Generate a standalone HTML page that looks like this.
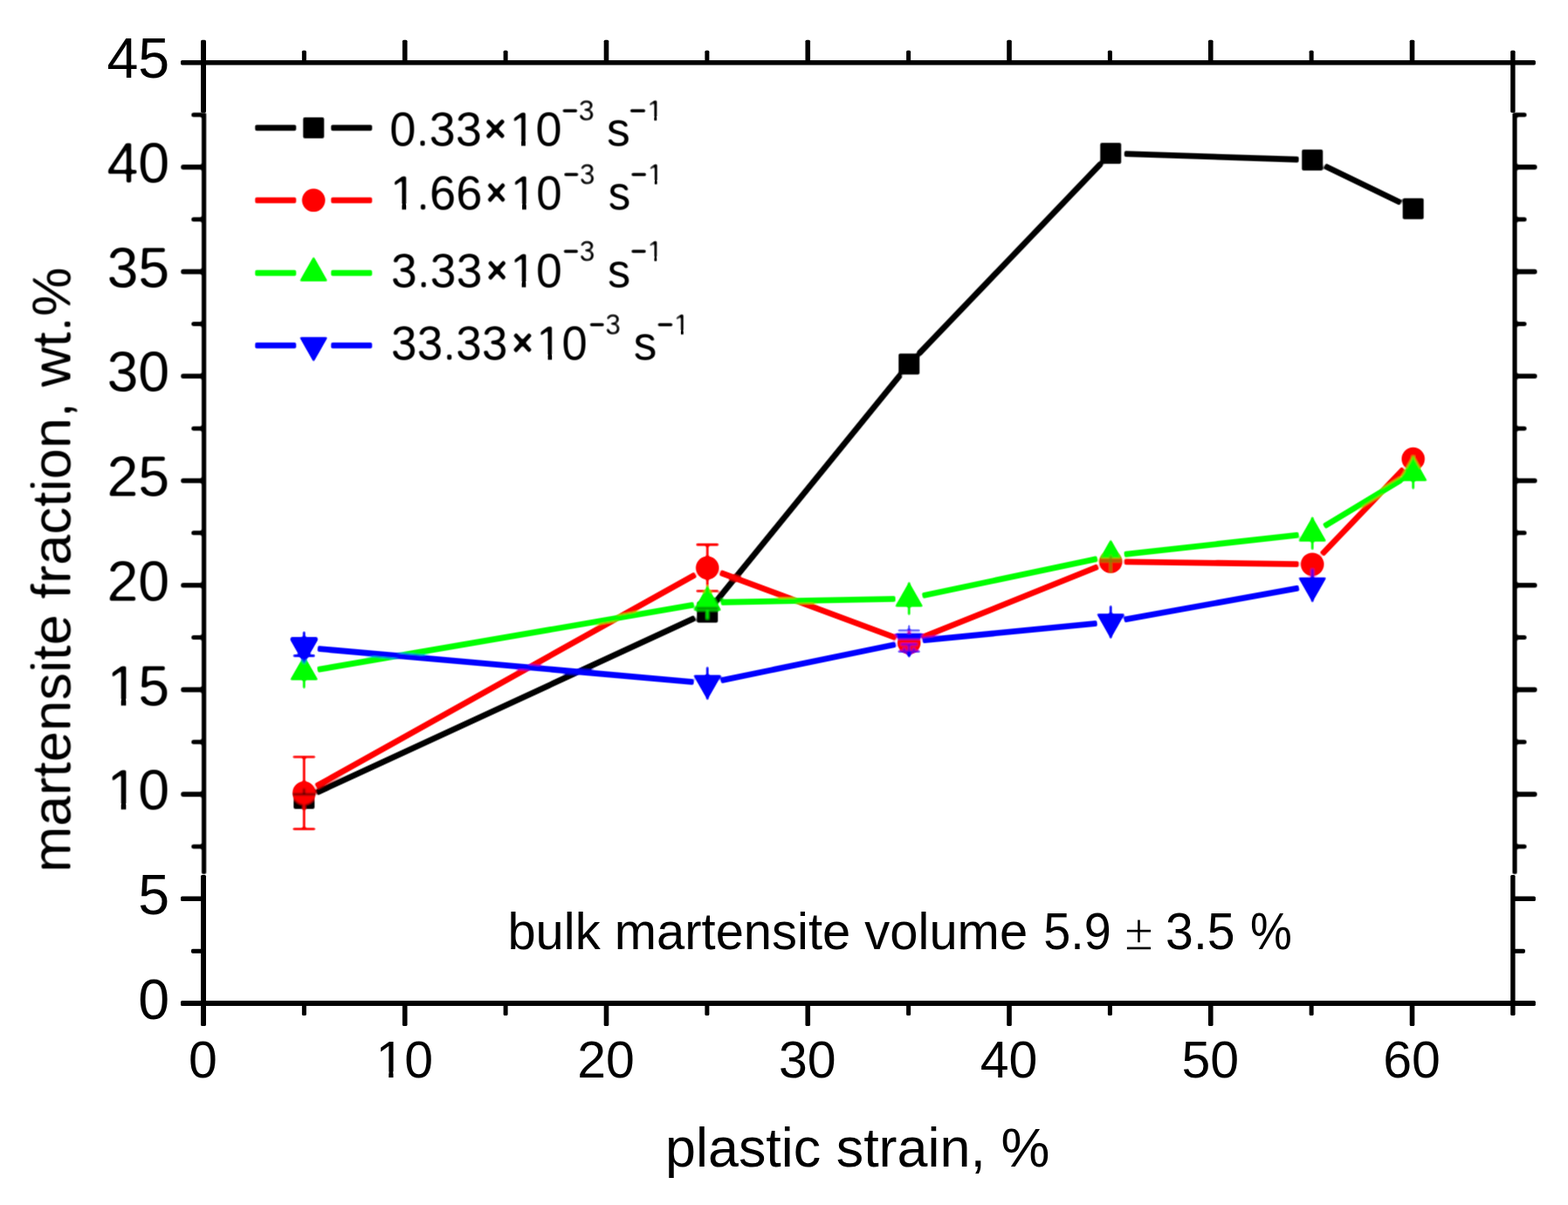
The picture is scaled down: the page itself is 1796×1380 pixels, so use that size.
<!DOCTYPE html>
<html lang="en"><head><meta charset="utf-8"><title>Martensite fraction vs plastic strain</title>
<style>html,body{margin:0;padding:0;background:#fff;}svg{display:block;}text{font-family:"Liberation Sans",sans-serif;fill:#000;}</style></head><body>
<svg width="1796" height="1380" viewBox="0 0 1796 1380" role="img" aria-label="Martensite fraction versus plastic strain">
<defs><filter id="soft" x="0" y="0" width="1796" height="1380" filterUnits="userSpaceOnUse"><feGaussianBlur stdDeviation="0.9"/><feComponentTransfer><feFuncA type="linear" slope="1.7" intercept="-0.35"/></feComponentTransfer></filter><clipPath id="c35r"><rect x="0" y="726.00" width="1796" height="74.00"/></clipPath><clipPath id="c45"><rect x="0" y="0.00" width="1796" height="639.40"/></clipPath><clipPath id="c35a"><rect x="0" y="0.00" width="1796" height="732.30"/></clipPath><clipPath id="c35b"><rect x="0" y="747.00" width="1796" height="53.00"/></clipPath></defs>
<rect width="1796" height="1380" fill="#fff"/>
<g filter="url(#soft)"><g fill="#000" stroke="none">
<rect x="231.00" y="129.00" width="5.20" height="872.00" rx="0"/>
<rect x="1732.40" y="129.00" width="5.20" height="872.00" rx="0"/>
<rect x="219.20" y="966.95" width="14.40" height="5.00" rx="1.6"/>
<rect x="1735.00" y="966.95" width="13.60" height="5.00" rx="1.6"/>
<rect x="207.20" y="906.80" width="26.40" height="5.60" rx="1.6"/>
<rect x="1735.00" y="906.80" width="25.60" height="5.60" rx="1.6"/>
<rect x="219.20" y="847.25" width="14.40" height="5.00" rx="1.6"/>
<rect x="1735.00" y="847.25" width="13.60" height="5.00" rx="1.6"/>
<rect x="207.20" y="787.10" width="26.40" height="5.60" rx="1.6"/>
<rect x="1735.00" y="787.10" width="25.60" height="5.60" rx="1.6"/>
<rect x="219.20" y="727.55" width="14.40" height="5.00" rx="1.6"/>
<rect x="1735.00" y="727.55" width="13.60" height="5.00" rx="1.6"/>
<rect x="207.20" y="667.40" width="26.40" height="5.60" rx="1.6"/>
<rect x="1735.00" y="667.40" width="25.60" height="5.60" rx="1.6"/>
<rect x="219.20" y="607.85" width="14.40" height="5.00" rx="1.6"/>
<rect x="1735.00" y="607.85" width="13.60" height="5.00" rx="1.6"/>
<rect x="207.20" y="547.70" width="26.40" height="5.60" rx="1.6"/>
<rect x="1735.00" y="547.70" width="25.60" height="5.60" rx="1.6"/>
<rect x="219.20" y="488.15" width="14.40" height="5.00" rx="1.6"/>
<rect x="1735.00" y="488.15" width="13.60" height="5.00" rx="1.6"/>
<rect x="207.20" y="428.00" width="26.40" height="5.60" rx="1.6"/>
<rect x="1735.00" y="428.00" width="25.60" height="5.60" rx="1.6"/>
<rect x="219.20" y="368.45" width="14.40" height="5.00" rx="1.6"/>
<rect x="1735.00" y="368.45" width="13.60" height="5.00" rx="1.6"/>
<rect x="207.20" y="308.30" width="26.40" height="5.60" rx="1.6"/>
<rect x="1735.00" y="308.30" width="25.60" height="5.60" rx="1.6"/>
<rect x="219.20" y="248.75" width="14.40" height="5.00" rx="1.6"/>
<rect x="1735.00" y="248.75" width="13.60" height="5.00" rx="1.6"/>
<rect x="207.20" y="188.60" width="26.40" height="5.60" rx="1.6"/>
<rect x="1735.00" y="188.60" width="25.60" height="5.60" rx="1.6"/>
<rect x="219.20" y="129.05" width="14.40" height="5.00" rx="1.6"/>
<rect x="1735.00" y="129.05" width="13.60" height="5.00" rx="1.6"/>
<text x="194.2" y="927.20" font-size="64.5" text-anchor="end">10</text>
<text x="194.2" y="807.50" font-size="64.5" text-anchor="end">15</text>
<text x="194.2" y="687.80" font-size="64.5" text-anchor="end">20</text>
<text x="194.2" y="568.10" font-size="64.5" text-anchor="end">25</text>
<text x="194.2" y="448.40" font-size="64.5" text-anchor="end">30</text>
<text x="194.2" y="328.70" font-size="64.5" text-anchor="end">35</text>
<text x="194.2" y="209.00" font-size="64.5" text-anchor="end">40</text>
<text transform="translate(80.6 652.6) rotate(-90)" font-size="63.3" text-anchor="middle">martensite fraction, wt.%</text>
<path d="M362.45 907.85L796.09 707.62M820.09 688.98L1031.39 429.02M1052.02 405.65L1261.42 186.87M1287.80 176.12L1487.60 182.74M1517.24 190.05L1604.63 232.26" stroke="#000" stroke-width="6.8" fill="none"/>
<rect x="336.29" y="902.39" width="24.0" height="24.0" fill="#000" stroke="none"/>
<rect x="798.25" y="689.08" width="24.0" height="24.0" fill="#000" stroke="none"/>
<rect x="1029.23" y="404.91" width="24.0" height="24.0" fill="#000" stroke="none"/>
<rect x="1260.21" y="163.60" width="24.0" height="24.0" fill="#000" stroke="none"/>
<rect x="1491.19" y="171.26" width="24.0" height="24.0" fill="#000" stroke="none"/>
<rect x="1606.68" y="227.04" width="24.0" height="24.0" fill="#000" stroke="none"/>
<path d="M361.91 900.56L796.63 657.93M824.88 655.76L1026.60 730.61M1055.70 730.21L1257.74 648.97M1287.81 643.36L1487.59 646.05M1513.98 634.99L1607.89 536.87" stroke="#f00" stroke-width="6.8" fill="none"/>
<circle cx="348.29" cy="908.16" r="13.3" fill="#f00" stroke="none"/>
<circle cx="810.25" cy="650.33" r="13.3" fill="#f00" stroke="none"/>
<g clip-path="url(#c35r)"><circle cx="1041.23" cy="736.03" r="13.3" fill="#f00" stroke="none"/></g>
<circle cx="1272.21" cy="643.15" r="13.3" fill="#f00" stroke="none"/>
<circle cx="1503.19" cy="646.26" r="13.3" fill="#f00" stroke="none"/>
<circle cx="1618.68" cy="525.60" r="13.3" fill="#f00" stroke="none"/>
<path d="M348.29 866.86V949.46M335.29 866.86h26M335.29 949.46h26" stroke="#f00" stroke-width="2.8" fill="none"/>
<path d="M335.49 909.6h25.6M348.29 903V909.6" stroke="#000" stroke-width="1.8" fill="none"/>
<path d="M810.25 623.73V676.93M797.25 623.73h26M797.25 676.93h26" stroke="#f00" stroke-width="2.8" fill="none"/>
<path d="M1041.23 723.2V734" stroke="#f00" stroke-width="2.8" fill="none"/>
<path d="M363.66 766.91L794.88 692.72M825.85 689.76L1025.63 685.83M1056.49 682.29L1256.95 639.91M1287.71 634.95L1487.69 612.56M1516.56 602.79L1605.31 549.44" stroke="#0f0" stroke-width="6.8" fill="none"/>
<path d="M348.29 750.48L364.59 779.08H331.99Z" fill="#0f0" stroke="none"/>
<path d="M810.25 671.00L826.55 699.60H793.95Z" fill="#0f0" stroke="none"/>
<path d="M1041.23 666.45L1057.53 695.05H1024.93Z" fill="#0f0" stroke="none"/>
<g clip-path="url(#c45)"><path d="M1272.21 617.62L1288.51 646.22H1255.91Z" fill="#0f0" stroke="none"/></g>
<path d="M1503.19 591.76L1519.49 620.36H1486.89Z" fill="#0f0" stroke="none"/>
<path d="M1618.68 522.34L1634.98 550.94H1602.38Z" fill="#0f0" stroke="none"/>
<path d="M348.29 750.55V788.55" stroke="#0f0" stroke-width="2.8" fill="none"/>
<path d="M810.25 671.07V709.07" stroke="#0f0" stroke-width="2.8" fill="none"/>
<path d="M797.75 696.6h25" stroke="#003300" stroke-width="1.8" fill="none"/>
<path d="M1041.23 666.52V704.52" stroke="#0f0" stroke-width="2.8" fill="none"/>
<path d="M1260.21 642.6h24M1272.21 636V655.5" stroke="#6b8e00" stroke-width="2.0" fill="none"/>
<path d="M1503.19 591.83V629.83" stroke="#0f0" stroke-width="2.8" fill="none"/>
<path d="M1618.68 522.40V560.40" stroke="#0f0" stroke-width="2.8" fill="none"/>
<path d="M363.83 742.92L794.71 781.10M825.53 779.33L1025.95 737.99M1056.76 733.33L1256.68 713.85M1287.56 709.57L1487.84 673.45" stroke="#00f" stroke-width="6.8" fill="none"/>
<path d="M348.29 760.61L364.59 732.01H331.99Z" fill="#00f" stroke="none"/>
<path d="M810.25 801.55L826.55 772.95H793.95Z" fill="#00f" stroke="none"/>
<g clip-path="url(#c35a)"><path d="M1041.23 753.90L1057.53 725.30H1024.93Z" fill="#00f" stroke="none"/></g><g clip-path="url(#c35b)"><path d="M1041.23 753.90L1057.53 725.30H1024.93Z" fill="#00f" stroke="none"/></g>
<path d="M1272.21 731.40L1288.51 702.80H1255.91Z" fill="#00f" stroke="none"/>
<path d="M1503.19 689.75L1519.49 661.15H1486.89Z" fill="#00f" stroke="none"/>
<path d="M348.29 723V751M335.69 751h25.2M332.79 730.8h31" stroke="#00f" stroke-width="2.8" fill="none"/>
<path d="M810.25 763.48V801.48" stroke="#00f" stroke-width="2.8" fill="none"/>
<path d="M1041.23 715.6V722M1028.23 721.9h26M1031.93 737.9h18.6M1028.23 746.2h26M1035.73 742V746M1046.73 742V746M1041.23 738V746" stroke="#00f" stroke-width="1.9" fill="none"/>
<path d="M1272.21 693.33V731.33" stroke="#00f" stroke-width="2.8" fill="none"/>
<path d="M1503.19 651.68V689.68" stroke="#00f" stroke-width="2.8" fill="none"/>
<path d="M292.20 146.4H339.20M379.20 146.4H426.20" stroke="#000" stroke-width="6.8" fill="none"/>
<rect x="347.20" y="134.40" width="24.0" height="24.0" fill="#000" stroke="none"/>
<text transform="translate(446.30 167.10) scale(0.9698 1)" font-size="56.0">0.33</text>
<text transform="translate(554.52 163.20) scale(0.9408 1)" font-size="47" font-weight="bold">×</text>
<text transform="translate(583.49 167.10) scale(0.9674 1)" font-size="56.0">10</text>
<text transform="translate(643.25 138.10) scale(0.9928 1)" font-size="33.2"><tspan font-weight="bold">−</tspan>3</text>
<text transform="translate(694.75 167.10) scale(0.9695 1)" font-size="56.0">s</text>
<text transform="translate(720.59 138.10) scale(1.0338 1)" font-size="33.2"><tspan font-weight="bold">−</tspan>1</text>
<path d="M292.20 229.3H339.20M379.20 229.3H426.20" stroke="#f00" stroke-width="6.8" fill="none"/>
<circle cx="359.20" cy="229.30" r="13.3" fill="#f00" stroke="none"/>
<text transform="translate(446.78 239.70) scale(0.9691 1)" font-size="56.0">1.66</text>
<text transform="translate(556.60 235.80) scale(0.8830 1)" font-size="47" font-weight="bold">×</text>
<text transform="translate(584.81 239.70) scale(0.9458 1)" font-size="56.0">10</text>
<text transform="translate(645.00 211.00) scale(0.9614 1)" font-size="33.2"><tspan font-weight="bold">−</tspan>3</text>
<text transform="translate(696.39 239.70) scale(0.9222 1)" font-size="56.0">s</text>
<text transform="translate(722.04 211.00) scale(0.9995 1)" font-size="33.2"><tspan font-weight="bold">−</tspan>1</text>
<path d="M292.20 312.6H339.20M379.20 312.6H426.20" stroke="#0f0" stroke-width="6.8" fill="none"/>
<path d="M359.20 293.53L375.50 322.13H342.90Z" fill="#0f0" stroke="none"/>
<text transform="translate(447.72 328.80) scale(0.9612 1)" font-size="56.0">3.33</text>
<text transform="translate(556.99 324.90) scale(0.8913 1)" font-size="47" font-weight="bold">×</text>
<text transform="translate(584.14 328.80) scale(0.9584 1)" font-size="56.0">10</text>
<text transform="translate(644.59 298.50) scale(0.9728 1)" font-size="33.2"><tspan font-weight="bold">−</tspan>3</text>
<text transform="translate(695.77 328.80) scale(0.9458 1)" font-size="56.0">s</text>
<text transform="translate(722.07 298.50) scale(0.9858 1)" font-size="33.2"><tspan font-weight="bold">−</tspan>1</text>
<path d="M292.20 395.6H339.20M379.20 395.6H426.20" stroke="#00f" stroke-width="6.8" fill="none"/>
<path d="M359.20 414.67L375.50 386.07H342.90Z" fill="#00f" stroke="none"/>
<text transform="translate(447.73 412.30) scale(0.9543 1)" font-size="56.0">33.33</text>
<text transform="translate(585.96 408.40) scale(0.9119 1)" font-size="47" font-weight="bold">×</text>
<text transform="translate(614.34 412.30) scale(0.9386 1)" font-size="56.0">10</text>
<text transform="translate(674.61 382.70) scale(0.9585 1)" font-size="33.2"><tspan font-weight="bold">−</tspan>3</text>
<text transform="translate(725.46 412.30) scale(0.9616 1)" font-size="56.0">s</text>
<text transform="translate(752.14 382.70) scale(0.9995 1)" font-size="33.2"><tspan font-weight="bold">−</tspan>1</text>
</g></g>
<g fill="#000" stroke="none">
<rect x="207.00" y="69.00" width="1551.88" height="5.40" rx="1.6"/>
<rect x="207.00" y="1146.00" width="1551.88" height="6.00" rx="1.6"/>
<rect x="345.88" y="57.70" width="5.00" height="14.00" rx="1.6"/>
<rect x="345.88" y="1149.00" width="5.00" height="14.00" rx="1.6"/>
<rect x="460.95" y="45.70" width="5.60" height="26.00" rx="1.6"/>
<rect x="460.95" y="1149.00" width="5.60" height="26.00" rx="1.6"/>
<rect x="576.62" y="57.70" width="5.00" height="14.00" rx="1.6"/>
<rect x="576.62" y="1149.00" width="5.00" height="14.00" rx="1.6"/>
<rect x="691.70" y="45.70" width="5.60" height="26.00" rx="1.6"/>
<rect x="691.70" y="1149.00" width="5.60" height="26.00" rx="1.6"/>
<rect x="807.38" y="57.70" width="5.00" height="14.00" rx="1.6"/>
<rect x="807.38" y="1149.00" width="5.00" height="14.00" rx="1.6"/>
<rect x="922.45" y="45.70" width="5.60" height="26.00" rx="1.6"/>
<rect x="922.45" y="1149.00" width="5.60" height="26.00" rx="1.6"/>
<rect x="1038.12" y="57.70" width="5.00" height="14.00" rx="1.6"/>
<rect x="1038.12" y="1149.00" width="5.00" height="14.00" rx="1.6"/>
<rect x="1153.20" y="45.70" width="5.60" height="26.00" rx="1.6"/>
<rect x="1153.20" y="1149.00" width="5.60" height="26.00" rx="1.6"/>
<rect x="1268.88" y="57.70" width="5.00" height="14.00" rx="1.6"/>
<rect x="1268.88" y="1149.00" width="5.00" height="14.00" rx="1.6"/>
<rect x="1383.95" y="45.70" width="5.60" height="26.00" rx="1.6"/>
<rect x="1383.95" y="1149.00" width="5.60" height="26.00" rx="1.6"/>
<rect x="1499.62" y="57.70" width="5.00" height="14.00" rx="1.6"/>
<rect x="1499.62" y="1149.00" width="5.00" height="14.00" rx="1.6"/>
<rect x="1614.70" y="45.70" width="5.60" height="26.00" rx="1.6"/>
<rect x="1614.70" y="1149.00" width="5.60" height="26.00" rx="1.6"/>
<rect x="230.00" y="45.70" width="6.00" height="83.30" rx="1.6"/>
<rect x="1730.17" y="57.70" width="5.40" height="71.30" rx="1.6"/>
<rect x="230.00" y="1002.00" width="6.00" height="173.00" rx="1.6"/>
<rect x="1730.17" y="1002.00" width="5.40" height="161.00" rx="1.6"/>
<rect x="219.00" y="1086.65" width="14.00" height="5.00" rx="1.6"/>
<rect x="1732.88" y="1086.65" width="14.00" height="5.00" rx="1.6"/>
<rect x="207.00" y="1026.50" width="26.00" height="5.60" rx="1.6"/>
<rect x="1732.88" y="1026.50" width="26.00" height="5.60" rx="1.6"/>
<text x="194.2" y="1166.60" font-size="64.5" text-anchor="end">0</text>
<text x="194.2" y="1046.90" font-size="64.5" text-anchor="end">5</text>
<text x="194.2" y="89.30" font-size="64.5" text-anchor="end">45</text>
<text x="232.50" y="1234" font-size="59" text-anchor="middle">0</text>
<text x="463.25" y="1234" font-size="59" text-anchor="middle">10</text>
<text x="694.00" y="1234" font-size="59" text-anchor="middle">20</text>
<text x="924.75" y="1234" font-size="59" text-anchor="middle">30</text>
<text x="1155.50" y="1234" font-size="59" text-anchor="middle">40</text>
<text x="1386.25" y="1234" font-size="59" text-anchor="middle">50</text>
<text x="1617.00" y="1234" font-size="59" text-anchor="middle">60</text>
<text transform="translate(761.97 1335.60) scale(0.9985 1)" font-size="63">plastic strain, %</text>
<text transform="translate(581.38 1087.40) scale(0.9888 1)" font-size="58.6">bulk martensite volume</text>
<text transform="translate(1195.36 1087.40) scale(0.9514 1)" font-size="58.6">5.9</text>
<text transform="translate(1288.25 1088.00) scale(0.9874 1)" font-size="59.8" font-family="Liberation Serif, serif" stroke="#fff" stroke-width="1.5">±</text>
<text transform="translate(1335.12 1087.40) scale(0.9747 1)" font-size="58.6">3.5</text>
<text transform="translate(1432.02 1087.40) scale(0.9170 1)" font-size="58.6">%</text>
</g>
<g stroke="none"><rect x="125.37" y="919.88" width="13.31" height="9.82" fill="#fff"/><rect x="144.38" y="919.88" width="12.80" height="9.82" fill="#fff"/><rect x="125.37" y="800.18" width="13.31" height="9.82" fill="#fff"/><rect x="144.38" y="800.18" width="12.80" height="9.82" fill="#fff"/><rect x="432.93" y="1227.09" width="12.34" height="9.41" fill="#fff"/><rect x="450.49" y="1227.09" width="11.88" height="9.41" fill="#fff"/><rect x="585.62" y="160.42" width="11.50" height="9.18" fill="#fff"/><rect x="601.90" y="160.42" width="11.07" height="9.18" fill="#fff"/><rect x="741.25" y="133.12" width="8.02" height="7.48" fill="#fff"/><rect x="752.30" y="133.12" width="7.75" height="7.48" fill="#fff"/><rect x="448.91" y="233.02" width="11.51" height="9.18" fill="#fff"/><rect x="465.22" y="233.02" width="11.09" height="9.18" fill="#fff"/><rect x="586.84" y="233.02" width="11.28" height="9.18" fill="#fff"/><rect x="602.81" y="233.02" width="10.87" height="9.18" fill="#fff"/><rect x="741.95" y="206.02" width="7.82" height="7.48" fill="#fff"/><rect x="752.70" y="206.02" width="7.56" height="7.48" fill="#fff"/><rect x="586.23" y="322.12" width="11.41" height="9.18" fill="#fff"/><rect x="602.38" y="322.12" width="10.99" height="9.18" fill="#fff"/><rect x="741.67" y="293.52" width="7.74" height="7.48" fill="#fff"/><rect x="752.30" y="293.52" width="7.48" height="7.48" fill="#fff"/><rect x="616.35" y="405.62" width="11.21" height="9.18" fill="#fff"/><rect x="632.21" y="405.62" width="10.80" height="9.18" fill="#fff"/><rect x="772.05" y="377.72" width="7.82" height="7.48" fill="#fff"/><rect x="782.80" y="377.72" width="7.56" height="7.48" fill="#fff"/></g>
</svg></body></html>
